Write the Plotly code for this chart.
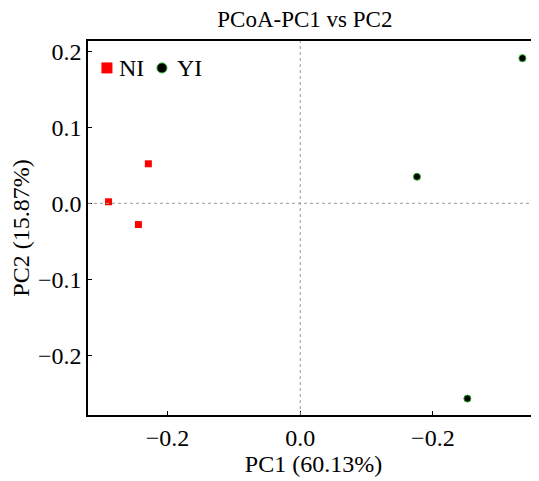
import plotly.graph_objects as go

# PCoA coordinates
ni_pc1 = [-0.289, -0.229, -0.244]
ni_pc2 = [0.002, 0.052, -0.028]
yi_pc1 = [0.335, 0.176, 0.252]
yi_pc2 = [0.191, 0.035, -0.257]

groups = ["NI", "YI"]

x_tickvals = [-0.2, 0.0, 0.2]
x_ticktext = ["\u22120.2", "0.0", "\u22120.2"]
y_tickvals = [0.2, 0.1, 0.0, -0.1, -0.2]
y_ticktext = ["0.2", "0.1", "0.0", "\u22120.1", "\u22120.2"]

FONT = "Liberation Serif, Times New Roman, serif"
RED = "#ff0000"
GREEN = "#22aa22"

fig = go.Figure()

fig.add_trace(go.Scatter(
    x=ni_pc1, y=ni_pc2, mode="markers", name=groups[0],
    marker=dict(symbol="square", size=7, color=RED, line=dict(width=0))
))
fig.add_trace(go.Scatter(
    x=yi_pc1, y=yi_pc2, mode="markers", name=groups[1],
    marker=dict(symbol="circle", size=7, color="black", line=dict(width=1, color=GREEN))
))

# dotted reference lines at zero
fig.add_shape(type="line", xref="x", yref="paper", x0=0, x1=0, y0=0, y1=1,
              line=dict(color="#999999", width=1, dash="dot"))
fig.add_shape(type="line", xref="paper", yref="y", x0=0, x1=1, y0=0, y1=0,
              line=dict(color="#999999", width=1, dash="dot"))

# legend drawn by hand (top left, one row)
leg_y = 0.928
fig.add_shape(type="rect", xref="paper", yref="paper", xsizemode="pixel", ysizemode="pixel",
              xanchor=0.042, yanchor=leg_y, x0=-5.5, x1=5.5, y0=-5.5, y1=5.5,
              fillcolor=RED, line=dict(width=0))
fig.add_shape(type="circle", xref="paper", yref="paper", xsizemode="pixel", ysizemode="pixel",
              xanchor=0.164, yanchor=leg_y, x0=-5, x1=5, y0=-5, y1=5,
              fillcolor="black", line=dict(width=1, color=GREEN))
fig.add_annotation(text=groups[0], xref="paper", yref="paper", x=0.064, y=leg_y,
                   xanchor="left", yanchor="middle", showarrow=False,
                   font=dict(size=24, family=FONT, color="black"))
fig.add_annotation(text=groups[1], xref="paper", yref="paper", x=0.192, y=leg_y,
                   xanchor="left", yanchor="middle", showarrow=False,
                   font=dict(size=24, family=FONT, color="black"))

fig.update_layout(
    width=531, height=473,
    margin=dict(l=80, r=0, t=33, b=66),
    plot_bgcolor="white", paper_bgcolor="white",
    font=dict(family=FONT, color="black", size=24),
    title=dict(text="PCoA-PC1 vs PC2", x=0.559, xanchor="center", y=0.976, yanchor="middle",
               font=dict(size=23, family=FONT)),
    showlegend=False,
)

fig.update_xaxes(
    range=[-0.32, 0.36], tickvals=x_tickvals, ticktext=x_ticktext,
    showgrid=False, zeroline=False, showline=True, linecolor="black", linewidth=1.5,
    mirror=True, ticks="inside", ticklen=4, tickcolor="black",
    tickfont=dict(size=24, family=FONT),
    title=dict(text="PC1 (60.13%)", font=dict(size=24, family=FONT), standoff=4),
)
fig.update_yaxes(
    range=[-0.2786, 0.2136], tickvals=y_tickvals, ticktext=y_ticktext,
    showgrid=False, zeroline=False, showline=True, linecolor="black", linewidth=1.5,
    mirror=False, ticks="inside", ticklen=4, tickcolor="black",
    tickfont=dict(size=24, family=FONT),
    title=dict(text="PC2 (15.87%)", font=dict(size=24, family=FONT), standoff=6),
)

fig.write_html("out.html")
